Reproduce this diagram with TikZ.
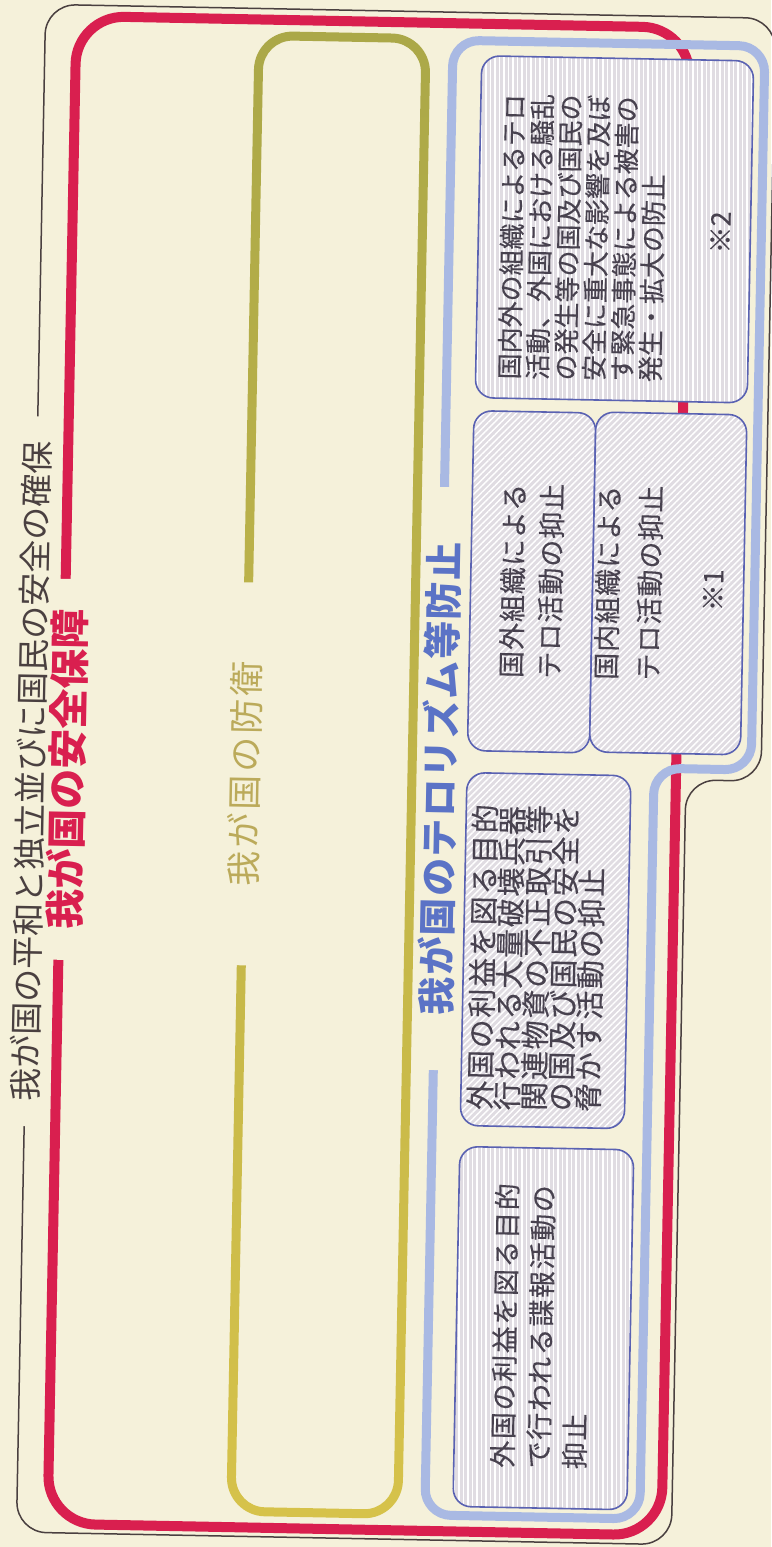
\documentclass[tikz,border=0pt]{standalone}
\usepackage{fontspec}
\newfontfamily\jp{Noto Sans CJK JP}
\newfontfamily\jpm{Noto Sans CJK JP}[FakeBold=0.3]
\usetikzlibrary{patterns.meta}
\definecolor{bg}{HTML}{F5F1DA}
\definecolor{redc}{HTML}{D91F4F}
\definecolor{lblue}{HTML}{A9B9E3}
\definecolor{tblue}{HTML}{5B73C6}
\definecolor{boxline}{HTML}{5A62B2}
\definecolor{boxfill}{HTML}{E0DCE2}
\definecolor{txt}{HTML}{48424F}
\definecolor{oliveA}{HTML}{ABA848}
\definecolor{oliveB}{HTML}{D6C24A}
\definecolor{olivetxt}{HTML}{BBAA5A}
\definecolor{blk}{HTML}{4A4040}
\begin{document}
\begin{tikzpicture}[x=1pt,y=-1pt,
  ibox/.style={draw=boxline, line width=1.6pt, rounded corners=18pt, preaction={fill=boxfill}, inner sep=0pt},
  diag/.style={pattern={Lines[angle=45,distance=4.5pt,line width=1.4pt]}, pattern color=white},
  vert/.style={pattern={Lines[angle=90,distance=4.5pt,line width=1.4pt]}, pattern color=white},
  btxt/.style={rotate=90, text=txt, align=left, inner sep=0pt},
  lbl/.style={rotate=90, fill=bg, inner sep=0pt, align=center}]
\fill[bg] (0,0) rectangle (771,1547);
\useasboundingbox (0,0) rectangle (771,1547);
\begin{scope}[rotate around={-1.1:(385,773)}, every node/.append style={transform shape}]
% outer black outline
\draw[blk, line width=1.5pt, rounded corners=30pt]
  (31,11) -- (761,11) -- (761,774) -- (686,774) -- (686,1539) -- (31,1539) -- cycle;
% red frame
\draw[redc, line width=10pt, rounded corners=48pt] (62,22) rectangle (676,1530);
% olive frame
\shade[top color=oliveA, bottom color=oliveB, even odd rule]
  [rounded corners=38.5pt] (240.5,33.5) rectangle (416.5,1518.5)
  [rounded corners=29.5pt] (249.5,42.5) rectangle (407.5,1509.5);
% light blue frame
\draw[lblue, line width=9pt, rounded corners=26pt]
  (439,39) -- (751,39) -- (751,763) -- (654,763) -- (654,1514) -- (439,1514) -- cycle;
% inner boxes
\node[ibox, vert, minimum width=272pt, minimum height=342pt] (boxA) at (604,225) {};
\node[ibox, diag, minimum width=122pt, minimum height=340pt] (boxB1) at (528,579) {};
\node[ibox, diag, minimum width=151pt, minimum height=340pt] (boxB2) at (664.5,578) {};
\node[ibox, diag, minimum width=164pt, minimum height=353pt] (boxC) at (549,947.5) {};
\node[ibox, vert, minimum width=174pt, minimum height=360pt] (boxD) at (554,1325) {};
% box texts
\node[btxt, font=\jpm\fontsize{26}{28.2}\selectfont] (tA) at (572,234) {国内外の組織によるテロ\\活動、外国における騒乱\\の発生等の国及び国民の\\安全に重大な影響を及ぼ\\す緊急事態による被害の\\発生・拡大の防止};
\node[btxt, font=\jpm\fontsize{27}{27}\selectfont] (nA) at (710,226) {※2};
\node[btxt, font=\jpm\fontsize{27}{38}\selectfont\addfontfeatures{LetterSpace=3.7}] (tB1) at (528,578) {国外組織による\\テロ活動の抑止};
\node[btxt, font=\jpm\fontsize{27}{42}\selectfont\addfontfeatures{LetterSpace=3.7}] (tB2) at (625,578) {国内組織による\\テロ活動の抑止};
\node[btxt, font=\jpm\fontsize{27}{27}\selectfont] (nB2) at (709.5,584) {※1};
\node[btxt, font=\jpm\fontsize{29}{27}\selectfont\addfontfeatures{LetterSpace=6}] (tC) at (540,955) {外国の利益を図る目的\\行われる大量破壊兵器\\関連物資の不正取引等\\の国及び国民の安全を\\脅かす活動の抑止};
\node[btxt, font=\jpm\fontsize{27}{36}\selectfont\addfontfeatures{LetterSpace=6}] (tD) at (551.5,1323) {外国の利益を図る目的\\で行われる諜報活動の\\抑止};
% labels on frames
\node[lbl, minimum width=583pt, text=tblue, font=\jp\bfseries\fontsize{38}{38}\selectfont\addfontfeatures{LetterSpace=4}] (lblue) at (440,777.5) {我が国のテロリズム等防止};
\node[lbl, minimum width=383pt, text=olivetxt, font=\jp\fontsize{35}{35}\selectfont\addfontfeatures{LetterSpace=8.6}] (lolive) at (245,776.5) {我が国の防衛};
\node[lbl, minimum width=381pt, text=redc, font=\jp\bfseries\fontsize{40}{40}\selectfont] (lred) at (67,775.5) {我が国の安全保障};
\node[lbl, minimum width=710pt, text=blk, font=\jp\fontsize{33}{33}\selectfont] (lblack) at (31,778) {我が国の平和と独立並びに国民の安全の確保};
\end{scope}
\end{tikzpicture}
\end{document}
